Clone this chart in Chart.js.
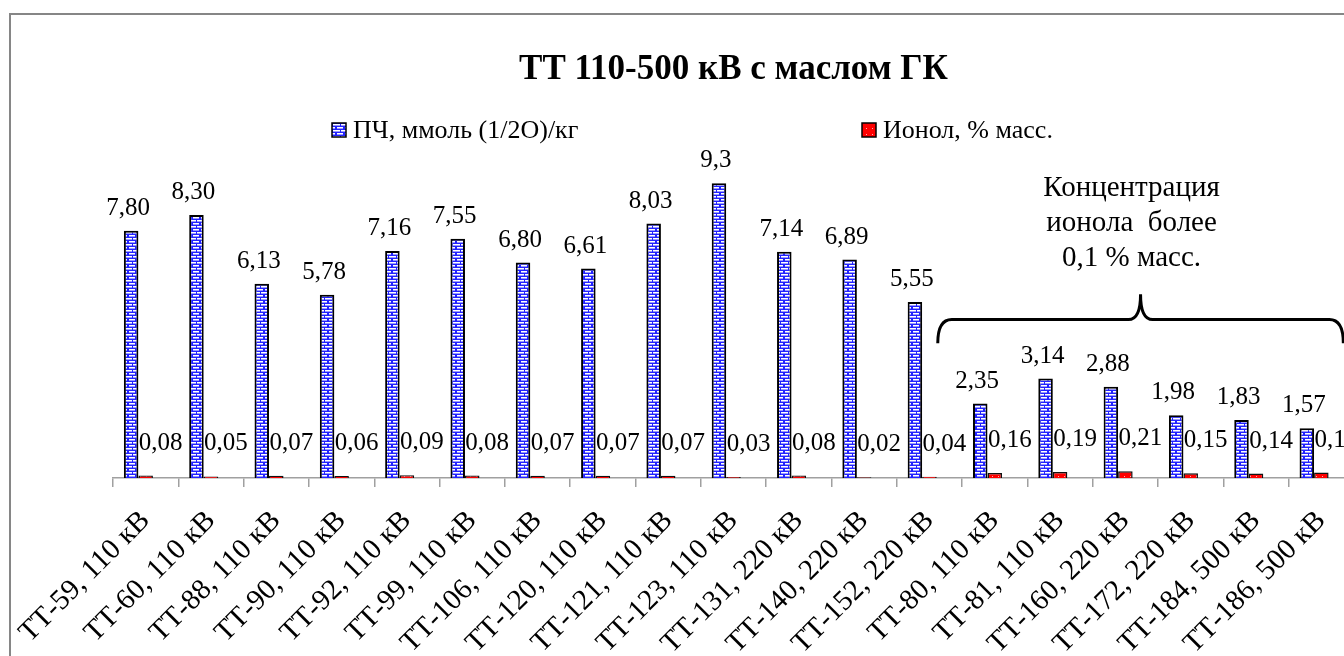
<!DOCTYPE html>
<html lang="ru">
<head>
<meta charset="utf-8">
<title>ТТ 110-500 кВ с маслом ГК</title>
<script src="https://cdn.jsdelivr.net/npm/chart.js@4.4.1/dist/chart.umd.min.js"></script>
<style>
    html, body { margin: 0; padding: 0; background: #fff; overflow: hidden; }
    #wrap { width: 1380px; height: 656px; }
</style>
</head>
<body>
<div id="wrap"><canvas id="ttChart" width="1380" height="656"></canvas></div>
<script>
//====================================
// DATOS
//====================================
const categorias = [
    'ТТ-59, 110 кВ', 'ТТ-60, 110 кВ', 'ТТ-88, 110 кВ', 'ТТ-90, 110 кВ', 'ТТ-92, 110 кВ',
    'ТТ-99, 110 кВ', 'ТТ-106, 110 кВ', 'ТТ-120, 110 кВ', 'ТТ-121, 110 кВ', 'ТТ-123, 110 кВ',
    'ТТ-131, 220 кВ', 'ТТ-140, 220 кВ', 'ТТ-152, 220 кВ', 'ТТ-80, 110 кВ', 'ТТ-81, 110 кВ',
    'ТТ-160, 220 кВ', 'ТТ-172, 220 кВ', 'ТТ-184, 500 кВ', 'ТТ-186, 500 кВ'
];
const pchValores = [7.80, 8.30, 6.13, 5.78, 7.16, 7.55, 6.80, 6.61, 8.03, 9.3, 7.14, 6.89, 5.55, 2.35, 3.14, 2.88, 1.98, 1.83, 1.57];
const pchTextos = ['7,80', '8,30', '6,13', '5,78', '7,16', '7,55', '6,80', '6,61', '8,03', '9,3', '7,14', '6,89', '5,55', '2,35', '3,14', '2,88', '1,98', '1,83', '1,57'];
const ionolValores = [0.08, 0.05, 0.07, 0.06, 0.09, 0.08, 0.07, 0.07, 0.07, 0.03, 0.08, 0.02, 0.04, 0.16, 0.19, 0.21, 0.15, 0.14, 0.17];
const nombresSeries = ['ПЧ, ммоль (1/2О)/кг', 'Ионол, % масс.'];
const notaLineas = ['Концентрация', 'ионола  более', '0,1 % масс.'];
const primerConIonol = 13; // indice de ТТ-80

const FUENTE = '"Liberation Serif", "Times New Roman", serif';

//====================================
// PATRONES (ladrillo azul / rojo punteado)
//====================================
function patronLadrillo() {
    const c = document.createElement('canvas');
    c.width = 8; c.height = 6;
    const g = c.getContext('2d');
    g.fillStyle = '#2222ff';
    g.fillRect(0, 0, 8, 6);
    g.fillStyle = '#ffffff';
    // ladrillos blancos con junta azul
    g.fillRect(1, 1, 6, 1);
    g.fillRect(5, 4, 3, 1);
    g.fillRect(0, 4, 4, 1);
    g.fillStyle = '#9a9aff';
    g.fillRect(1, 2, 6, 1);
    g.fillRect(5, 5, 3, 1);
    g.fillRect(0, 5, 4, 1);
    return g.createPattern(c, 'repeat');
}

function patronRojo() {
    const c = document.createElement('canvas');
    c.width = 6; c.height = 6;
    const g = c.getContext('2d');
    g.fillStyle = '#ff0000';
    g.fillRect(0, 0, 6, 6);
    g.fillStyle = '#ffb0b0';
    g.fillRect(2, 2, 1, 1);
    return g.createPattern(c, 'repeat');
}

//====================================
// PLUGINS PROPIOS
//====================================
const marcoPlugin = {
    id: 'marco',
    beforeDraw(chart) {
        const ctx = chart.ctx;
        ctx.save();
        ctx.fillStyle = '#ffffff';
        ctx.fillRect(0, 0, chart.width, chart.height);
        ctx.strokeStyle = '#868686';
        ctx.lineWidth = 2;
        ctx.strokeRect(10, 14, chart.width + 100, chart.height + 100);
        ctx.restore();
    }
};

const leyendaPlugin = {
    id: 'leyenda',
    afterDraw(chart) {
        const ctx = chart.ctx;
        const items = [
            { x: 332, fill: chart.data.datasets[0].backgroundColor, texto: nombresSeries[0] },
            { x: 862, fill: chart.data.datasets[1].backgroundColor, texto: nombresSeries[1] }
        ];
        ctx.save();
        ctx.font = '26px ' + FUENTE;
        ctx.textBaseline = 'middle';
        ctx.textAlign = 'left';
        items.forEach(function (it) {
            ctx.fillStyle = it.fill;
            ctx.fillRect(it.x, 123, 14, 14);
            ctx.strokeStyle = '#000';
            ctx.lineWidth = 1.5;
            ctx.strokeRect(it.x, 123, 14, 14);
            ctx.fillStyle = '#000';
            ctx.fillText(it.texto, it.x + 21, 131);
        });
        ctx.restore();
    }
};

const etiquetasPlugin = {
    id: 'etiquetas',
    afterDatasetsDraw(chart) {
        const ctx = chart.ctx;
        ctx.save();
        ctx.font = '25px ' + FUENTE;
        ctx.fillStyle = '#000';
        ctx.textBaseline = 'bottom';
        ctx.textAlign = 'center';

        // Valores de ПЧ sobre cada barra azul
        chart.getDatasetMeta(0).data.forEach(function (bar, i) {
            ctx.fillText(pchTextos[i], bar.x - 3, bar.y - 10);
        });

        // Valores de ionol (a la derecha, sobre la barra roja)
        chart.getDatasetMeta(1).data.forEach(function (bar, i) {
            const txt = ionolValores[i].toFixed(2).replace('.', ',');
            ctx.fillText(txt, bar.x + 15, bar.y - 20);
        });
        ctx.restore();
    }
};

const llavePlugin = {
    id: 'llave',
    afterDraw(chart) {
        const xs = chart.scales.x;
        const ys = chart.scales.y;
        const ctx = chart.ctx;
        const izq = xs.getPixelForValue(primerConIonol) - 57;
        const der = xs.getPixelForValue(categorias.length - 1) + 22;
        const mid = (izq + der) / 2;
        const yH = ys.getPixelForValue(5.0);
        const yPunta = ys.getPixelForValue(4.25);
        const yTop = ys.getPixelForValue(5.8);

        ctx.save();
        ctx.strokeStyle = '#000';
        ctx.lineWidth = 3;
        ctx.beginPath();
        ctx.moveTo(izq, yPunta);
        ctx.quadraticCurveTo(izq, yH, izq + 14, yH);
        ctx.lineTo(mid - 12, yH);
        ctx.quadraticCurveTo(mid, yH, mid, yTop);
        ctx.quadraticCurveTo(mid, yH, mid + 12, yH);
        ctx.lineTo(der - 14, yH);
        ctx.quadraticCurveTo(der, yH, der, yPunta);
        ctx.stroke();

        ctx.font = '29px ' + FUENTE;
        ctx.fillStyle = '#000';
        ctx.textAlign = 'center';
        ctx.textBaseline = 'middle';
        const nivel = [9.15, 8.02, 6.92];
        notaLineas.forEach(function (linea, k) {
            ctx.fillText(linea, mid - 9, ys.getPixelForValue(nivel[k]));
        });
        ctx.restore();
    }
};

//====================================
// GRAFICO
//====================================
document.addEventListener('DOMContentLoaded', function () {
    const ctxTT = document.getElementById('ttChart');
    if (!ctxTT) {
        console.error('No se encontró el canvas del gráfico.');
        return;
    }

    const data = {
        labels: categorias,
        datasets: [
            {
                label: nombresSeries[0],
                data: pchValores,
                backgroundColor: patronLadrillo(),
                borderColor: '#000',
                borderWidth: 2,
                borderSkipped: 'bottom'
            },
            {
                label: nombresSeries[1],
                data: ionolValores,
                backgroundColor: patronRojo(),
                borderColor: '#111',
                borderWidth: 1.5,
                borderSkipped: 'bottom'
            },
            {
                // hueco vacio a la derecha del par (como en el original)
                label: '',
                data: [],
                backgroundColor: 'rgba(0,0,0,0)'
            }
        ]
    };

    const config = {
        type: 'bar',
        data: data,
        options: {
            responsive: false,
            animation: false,
            devicePixelRatio: 1,
            layout: { padding: { left: 113, right: 26, top: 0, bottom: 0 } },
            datasets: {
                bar: { categoryPercentage: 0.667, barPercentage: 1.0 }
            },
            scales: {
                x: {
                    grid: {
                        display: true,
                        drawOnChartArea: false,
                        offset: true,
                        tickLength: 9,
                        color: '#a0a0a0',
                        lineWidth: 1.5
                    },
                    border: { display: true, color: '#a0a0a0', width: 1.5 },
                    ticks: {
                        color: '#000',
                        font: { family: FUENTE, size: 29 },
                        minRotation: 45,
                        maxRotation: 45,
                        autoSkip: false,
                        padding: 17
                    },
                    afterFit: function (scale) { scale.height = 178; }
                },
                y: {
                    display: false,
                    min: 0,
                    max: 10
                }
            },
            plugins: {
                legend: { display: false },
                tooltip: { enabled: false },
                title: {
                    display: true,
                    text: 'ТТ 110-500 кВ с маслом ГК',
                    color: '#000',
                    font: { family: FUENTE, size: 35, weight: 'bold', lineHeight: 1.2 },
                    padding: { top: 49, bottom: 70 }
                }
            }
        },
        plugins: [marcoPlugin, etiquetasPlugin, llavePlugin, leyendaPlugin]
    };

    new Chart(ctxTT, config);
});
</script>
</body>
</html>
